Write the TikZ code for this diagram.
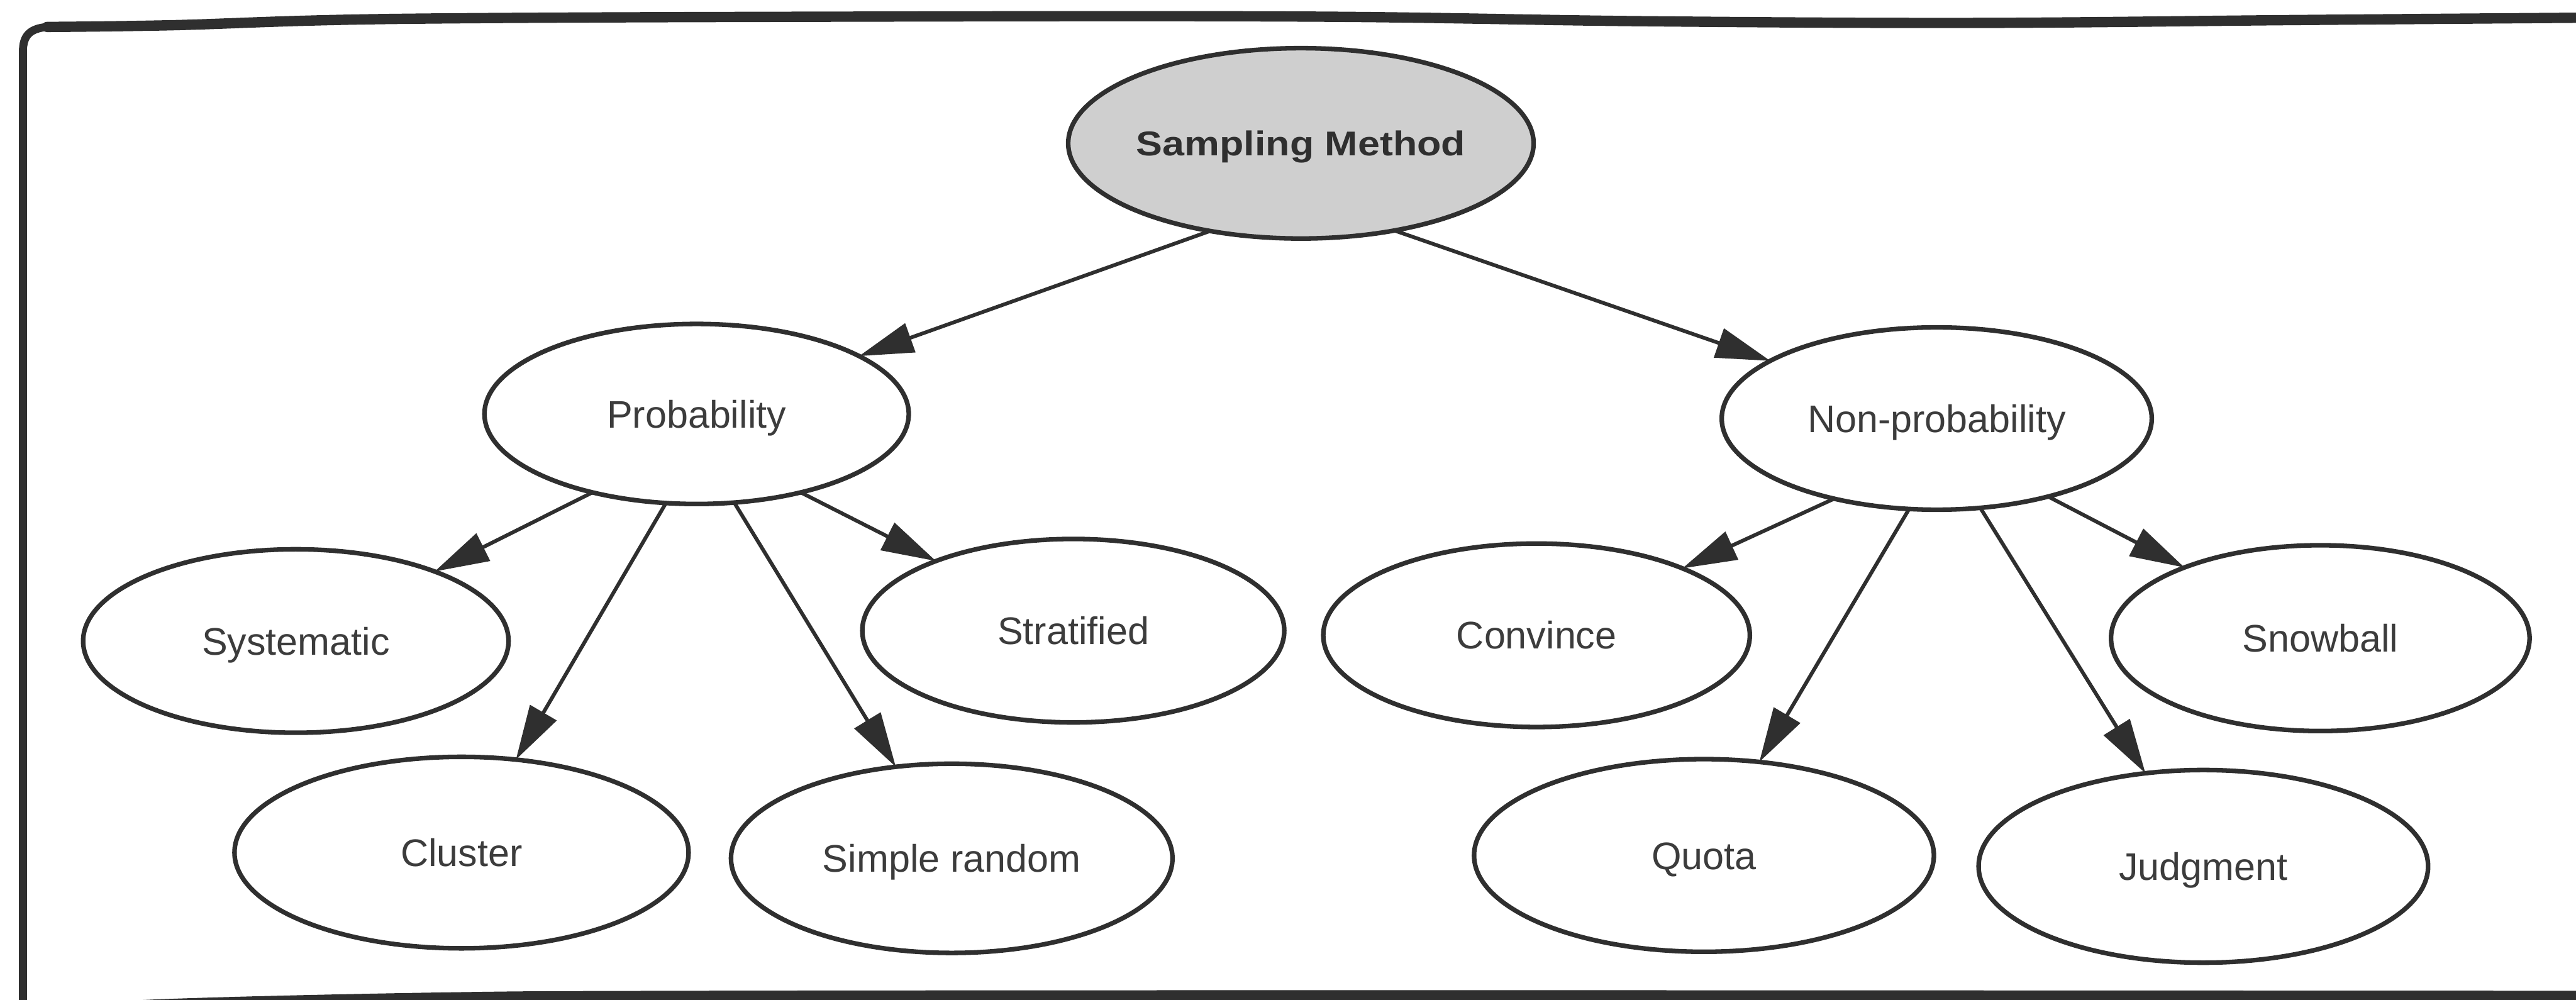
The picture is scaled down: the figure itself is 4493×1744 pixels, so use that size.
\documentclass[tikz,border=0pt]{standalone}
\usepackage{fontspec}
\setmainfont{Liberation Sans}
\usetikzlibrary{shapes.geometric,arrows.meta}
\definecolor{ink}{HTML}{2F2F2F}
\definecolor{labelgray}{HTML}{3C3C3C}
\definecolor{rootfill}{HTML}{CFCFCF}

\begin{document}
\begin{tikzpicture}[x=0.2pt,y=-0.2pt,
  oval/.style={ellipse, draw=ink, line width=1.6pt, inner sep=0pt, outer sep=0pt,
    text=labelgray, font=\fontsize{13.4}{16}\selectfont, text height=9.6pt, text depth=0pt},
  rootoval/.style={oval, fill=rootfill, text=ink,
    font=\bfseries\fontsize{12}{14}\selectfont, text height=8.6pt},
  link/.style={draw=ink, line width=1.3pt, -{Triangle[length=19pt,width=10.5pt]}},
  frameline/.style={draw=ink, line cap=round, line join=round}]

% page extent
\useasboundingbox (0,0) rectangle (4493,1744);
\fill[white] (0,0) rectangle (4493,1744);

% surrounding frame
\draw[frameline, line width=2.8pt] (40,1770) -- (40,90)
  .. controls (40,62) and (52,50) .. (82,47);
\draw[frameline, line width=3.6pt] plot[smooth, tension=0.6] coordinates
  {(82,47) (300,44) (690,33) (1500,29) (2290,29) (2865,37) (3440,40) (4000,35) (4493,31) (4530,31)};
\draw[frameline, line width=4pt] plot[smooth, tension=0.6] coordinates
  {(62,1766) (300,1752) (765,1741) (1200,1738) (2500,1737) (4493,1738) (4530,1738)};

% root
\node[rootoval, minimum width=156.8pt, minimum height=66.4pt] (sm) at (2269,250)
  {\scalebox{1.148}[1]{Sampling Method}};

% second level
\node[oval, minimum width=148pt,   minimum height=62.8pt] (prob) at (1215,722) {Probability};
\node[oval, minimum width=150pt,   minimum height=63.6pt] (nonp) at (3378,730) {Non-probability};

% third level
\node[oval, minimum width=148.4pt, minimum height=64pt]   (sys)   at (516,1118)  {Systematic};
\node[oval, minimum width=147.2pt, minimum height=64pt]   (strat) at (1872,1100) {Stratified};
\node[oval, minimum width=148.8pt, minimum height=64pt]   (conv)  at (2680,1108) {Convince};
\node[oval, minimum width=146pt,   minimum height=64.8pt] (snow)  at (4047,1113) {Snowball};

% fourth row
\node[oval, minimum width=158.4pt, minimum height=66.8pt] (clu)   at (805,1487)  {Cluster};
\node[oval, minimum width=154pt,   minimum height=66pt]   (sr)    at (1660,1497) {Simple random};
\node[oval, minimum width=160.4pt, minimum height=67.2pt] (quota) at (2972,1492) {Quota};
\node[oval, minimum width=156.8pt, minimum height=67.2pt] (judg)  at (3843,1511) {Judgment};

% connectors
\draw[link] (sm.224) -- (prob);
\draw[link] (sm.317) -- (nonp);
\draw[link] (prob.217) -- (sys);
\draw[link] (prob.251) -- (clu);
\draw[link] (prob.293) -- (sr);
\draw[link] (prob.323) -- (strat);
\draw[link] (nonp.218) -- (conv);
\draw[link] (nonp.253) -- (quota);
\draw[link] (nonp.296) -- (judg);
\draw[link] (nonp.325) -- (snow);
\end{tikzpicture}
\end{document}
